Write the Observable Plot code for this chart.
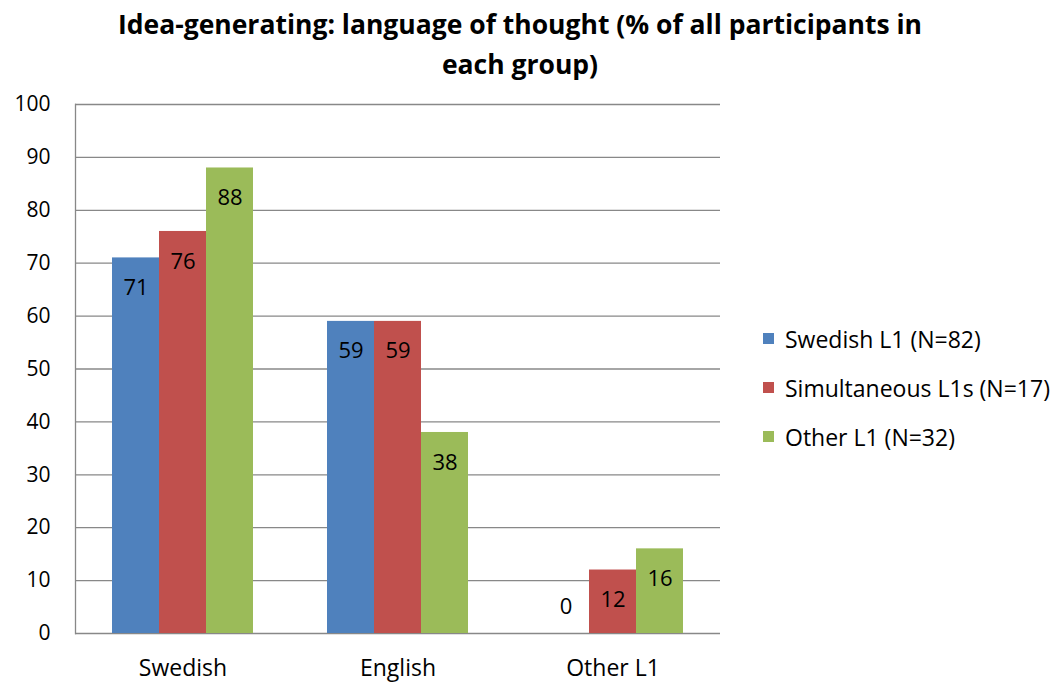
<!DOCTYPE html>
<html>
<head>
<meta charset="utf-8">
<script src="https://cdn.jsdelivr.net/npm/d3@7"></script>
<script src="https://cdn.jsdelivr.net/npm/@observablehq/plot@0.6"></script>
<style>
  html, body { margin: 0; padding: 0; background: #fff; }
  #wrap { position: relative; width: 1057px; height: 684px; font-family: "Open Sans", Lato, sans-serif; color: #000; }
  #title { position: absolute; left: 0; top: 4px; width: 1040px; text-align: center; font-weight: bold; font-size: 26.5px; line-height: 40px; }
  #chart { position: absolute; left: 0; top: 90px; }
  #legend { position: absolute; left: 763px; top: 314px; font-size: 23px; }
  .item { height: 49px; display: flex; align-items: center; white-space: nowrap; }
  .sw { width: 11px; height: 11px; margin-right: 11px; display: inline-block; }
</style>
</head>
<body>
<div id="wrap">
  <div id="title">Idea-generating: language of thought (% of all participants in<br>each group)</div>
  <div id="chart"></div>
  <div id="legend"></div>
</div>
<script>
const categories = ["Swedish", "English", "Other L1"];
const series = ["Swedish L1 (N=82)", "Simultaneous L1s (N=17)", "Other L1 (N=32)"];
const swedishL1 = [71, 59, 0];
const simultaneousL1s = [76, 59, 12];
const otherL1 = [88, 38, 16];
const colors = ["#4F81BD", "#C0504D", "#9BBB59"];
const yTicks = [0, 10, 20, 30, 40, 50, 60, 70, 80, 90, 100];

const seriesValues = [swedishL1, simultaneousL1s, otherL1];
const rows = [];
categories.forEach((c, i) => {
  series.forEach((s, j) => {
    rows.push({category: c, series: s, value: seriesValues[j][i]});
  });
});

const chart = Plot.plot({
  width: 740,
  height: 594,
  marginLeft: 75,
  marginRight: 20,
  marginTop: 14,
  marginBottom: 51,
  style: {fontFamily: "'Open Sans', Lato, sans-serif", fontSize: "21px", color: "#000", background: "transparent"},
  fx: {domain: categories, paddingInner: 0, paddingOuter: 0},
  x: {domain: series, axis: null, paddingInner: 0, paddingOuter: 0.755},
  y: {domain: [0, 100]},
  color: {domain: series, range: colors},
  marks: [
    Plot.ruleY(yTicks, {stroke: "#888888", strokeWidth: 1.3}),
    Plot.frame({anchor: "left", facet: "super", stroke: "#888888", strokeWidth: 1.3}),
    Plot.axisY(yTicks, {anchor: "left", label: null, tickSize: 0, tickPadding: 25, fontSize: 21}),
    Plot.axisFx({anchor: "bottom", label: null, tickSize: 0, tickPadding: 26, fontSize: 23}),
    Plot.barY(rows, {fx: "category", x: "series", y: "value", fill: "series", inset: 0}),
    Plot.text(rows.filter(d => d.value > 0), {fx: "category", x: "series", y: "value", text: d => String(d.value), dy: 30, fill: "#000", fontSize: 22, lineAnchor: "middle"}),
    Plot.text(rows.filter(d => d.value === 0), {fx: "category", x: "series", y: "value", text: d => String(d.value), dy: -27, fill: "#000", fontSize: 22, lineAnchor: "middle"})
  ]
});
document.getElementById("chart").appendChild(chart);

const legend = document.getElementById("legend");
series.forEach((s, j) => {
  const item = document.createElement("div");
  item.className = "item";
  const sw = document.createElement("span");
  sw.className = "sw";
  sw.style.background = colors[j];
  const label = document.createElement("span");
  label.textContent = s;
  item.appendChild(sw);
  item.appendChild(label);
  legend.appendChild(item);
});
</script>
</body>
</html>
